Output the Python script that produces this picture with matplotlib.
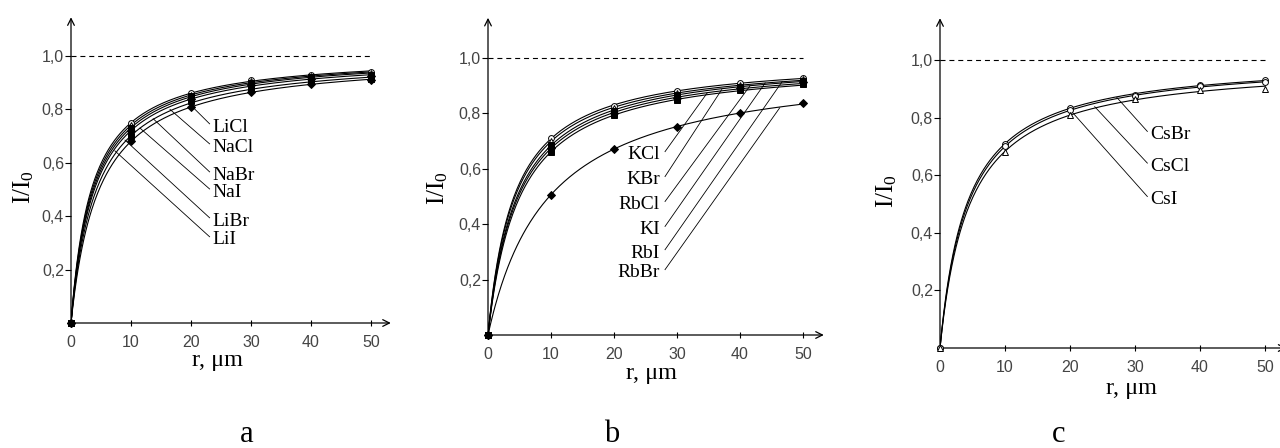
import numpy as np
import matplotlib

matplotlib.use("Agg")
import matplotlib.pyplot as plt

plt.rcParams["font.family"] = ["Liberation Serif", "DejaVu Serif"]
plt.rcParams["mathtext.fontset"] = "custom"
plt.rcParams["mathtext.rm"] = "Liberation Serif"
plt.rcParams["mathtext.it"] = "Liberation Serif:italic"

W, H = 1280, 448

# distance r, um, where I/I0 was measured
r_points = [0, 10, 20, 30, 40, 50]
x_ticks = [0, 10, 20, 30, 40, 50]
y_ticks = [0.2, 0.4, 0.6, 0.8, 1.0]
y_tick_labels = ["0,2", "0,4", "0,6", "0,8", "1,0"]

# panel a
a_names = ["LiCl", "NaCl", "NaBr", "NaI", "LiBr", "LiI"]
LiCl = [0, 0.75, 0.86, 0.91, 0.93, 0.94]
NaCl = [0, 0.74, 0.855, 0.905, 0.925, 0.935]
NaBr = [0, 0.73, 0.85, 0.90, 0.92, 0.93]
NaI = [0, 0.72, 0.84, 0.89, 0.915, 0.925]
LiBr = [0, 0.70, 0.83, 0.875, 0.905, 0.915]
LiI = [0, 0.68, 0.81, 0.865, 0.895, 0.91]

# panel b
b_names = ["KCl", "KBr", "RbCl", "KI", "RbI", "RbBr"]
KCl = [0, 0.71, 0.826, 0.881, 0.91, 0.929]
KBr = [0, 0.70, 0.818, 0.872, 0.903, 0.923]
RbCl = [0, 0.685, 0.81, 0.865, 0.897, 0.918]
KI = [0, 0.675, 0.80, 0.856, 0.89, 0.912]
RbI = [0, 0.662, 0.793, 0.847, 0.883, 0.905]
RbBr = [0, 0.507, 0.67, 0.751, 0.80, 0.838]

# panel c
c_names = ["CsBr", "CsCl", "CsI"]
CsBr = [0, 0.71, 0.832, 0.88, 0.913, 0.93]
CsCl = [0, 0.70, 0.826, 0.875, 0.908, 0.924]
CsI = [0, 0.682, 0.81, 0.865, 0.896, 0.90]

# marker per series: (marker, filled)
a_markers = [("o", False), ("^", False), ("s", True), ("D", True), ("s", True), ("D", True)]
b_markers = [("o", False), ("^", False), ("s", True), ("D", True), ("s", True), ("D", True)]
c_markers = [("o", False), ("o", False), ("^", False)]

# label text position (r, I/I0) and leader end on the curve
a_labels = [(23.5, 0.734, 20.0, 0.815), (23.5, 0.659, 16.5, 0.80), (23.5, 0.554, 13.7, 0.765),
            (23.5, 0.49, 11.5, 0.73), (23.5, 0.382, 9.0, 0.685), (23.5, 0.311, 7.3, 0.645)]
b_labels = [(27.3, 0.65, 34.8, 0.874), (27.3, 0.56, 37.1, 0.886), (27.3, 0.47, 41.6, 0.90),
            (27.3, 0.38, 44.0, 0.91), (27.3, 0.296, 46.7, 0.915), (27.3, 0.224, 46.3, 0.82)]
c_labels = [(32.3, 0.74, 27.2, 0.87), (32.3, 0.63, 23.8, 0.838), (32.3, 0.514, 20.5, 0.815)]


def hyperbola_fit(r, v):
    """Fit I/I0 = a*r/(b+r) through the measured points (r > 0)."""
    r = np.asarray(r[1:], dtype=float)
    v = np.asarray(v[1:], dtype=float)
    k, c = np.polyfit(1.0 / r, 1.0 / v, 1)
    a = 1.0 / c
    return a, k * a


def make_axes(fig, x0, y0, sx, sy, xmax=53.3, ymax=1.145):
    ax = fig.add_axes([x0 / W, (H - y0) / H, sx * xmax / W, sy * ymax / H])
    ax.set_xlim(0, xmax)
    ax.set_ylim(0, ymax)
    for side in ax.spines.values():
        side.set_visible(False)
    ax.patch.set_alpha(0)
    arrow = dict(arrowstyle="->", lw=0.9, color="black", shrinkA=0, shrinkB=0,
                 mutation_scale=12)
    ax.annotate("", xy=(xmax, 0), xytext=(0, 0), arrowprops=arrow, annotation_clip=False)
    ax.annotate("", xy=(0, ymax), xytext=(0, 0), arrowprops=arrow, annotation_clip=False)
    ax.set_xticks(x_ticks)
    ax.set_xticklabels([str(t) for t in x_ticks])
    ax.set_yticks(y_ticks)
    ax.set_yticklabels(y_tick_labels)
    ax.tick_params(axis="x", direction="inout", length=5, width=0.8, pad=6,
                   labelsize=11.5, labelcolor="#444444", labelfontfamily="Liberation Sans")
    ax.tick_params(axis="y", direction="out", length=4, width=0.8, pad=1,
                   labelsize=11.5, labelcolor="#444444", labelfontfamily="Liberation Sans")
    ax.plot([0, 50], [1, 1], color="black", lw=0.8, ls=(0, (4.5, 3.5)))
    return ax


def draw_series(ax, series, markers, lw=0.8):
    xs = np.concatenate([np.linspace(0, 1, 60), np.linspace(1, 50, 300)])
    for values, (marker, filled) in zip(series, markers):
        a, b = hyperbola_fit(r_points, values)
        ax.plot(xs, a * xs / (b + xs), color="black", lw=lw, zorder=3)
        ax.plot(r_points, values, ls="none", marker=marker, ms=4.2 if marker != "D" else 3.6,
                mfc="black" if filled else "white", mec="black", mew=0.7, zorder=4,
                clip_on=False)


def draw_labels(ax, names, labels, ha):
    for name, (tx, ty, cx, cy) in zip(names, labels):
        ax.text(tx, ty, name, ha=ha, va="center", fontsize=14, zorder=5)
        lx = tx - 0.4 if ha == "left" else tx + 0.8
        ax.plot([lx, cx], [ty + 0.012, cy], color="black", lw=0.6, zorder=2)


fig = plt.figure(figsize=(W / 100, H / 100), dpi=100)

ax_a = make_axes(fig, 71, 323, 6.0, 267)
draw_series(ax_a, [LiCl, NaCl, NaBr, NaI, LiBr, LiI], a_markers)
draw_labels(ax_a, a_names, a_labels, "left")

ax_b = make_axes(fig, 488, 335, 6.3, 277)
draw_series(ax_b, [KCl, KBr, RbCl, KI, RbI, RbBr], b_markers)
draw_labels(ax_b, b_names, b_labels, "right")

ax_c = make_axes(fig, 940, 348, 6.5, 288)
draw_series(ax_c, [CsBr, CsCl, CsI], c_markers)
draw_labels(ax_c, c_names, c_labels, "left")

# axis titles and panel letters, placed in figure pixels
for x, y in [(217, 366), (652, 379), (1131, 394)]:
    fig.text(x / W, (H - y) / H, "r, μm", ha="center", va="baseline", fontsize=17.5)
for x, y in [(30, 187), (444, 188), (893, 191)]:
    fig.text(x / W, (H - y) / H, "I/I$_0$", ha="center", va="baseline", rotation=90,
             rotation_mode="anchor", fontsize=18)
for x, letter in [(247, "a"), (612, "b"), (1059, "c")]:
    fig.text(x / W, 6 / H, letter, ha="center", va="baseline", fontsize=22)

fig.savefig("out.png", dpi=100)
